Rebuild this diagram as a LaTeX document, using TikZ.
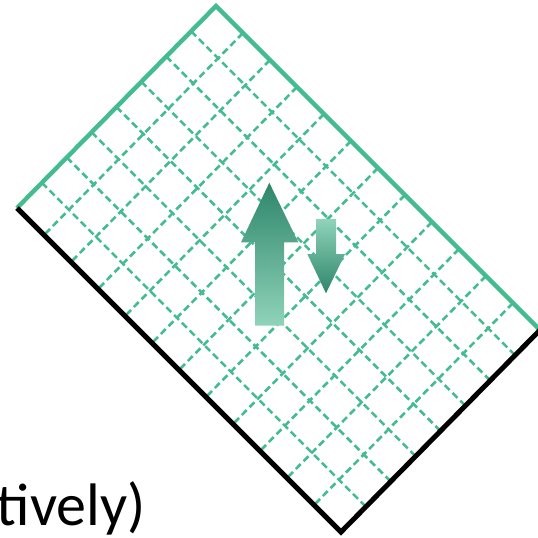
\documentclass[tikz,border=0pt]{standalone}
\usepackage{fontspec}
\setmainfont{Carlito}
\usetikzlibrary{calc}
\definecolor{gridteal}{RGB}{67,188,145}
\definecolor{arrdark}{RGB}{46,134,106}
\definecolor{arrmid}{RGB}{70,184,144}
\definecolor{arrlight}{RGB}{143,211,186}
\tikzset{
  gridline/.style={draw=gridteal, line width=2.6pt, dash pattern=on 7pt off 4pt},
  tealedge/.style={draw=gridteal, line width=4.4pt, line join=miter},
  blackedge/.style={draw=black, line width=5pt, line join=miter},
  lbl/.style={font=\fontsize{60}{60}\selectfont, inner sep=0pt, anchor=base east}
}
\begin{document}
\begin{tikzpicture}[x=1pt,y=-1pt]
\useasboundingbox (0,0) rectangle (538,538);
\coordinate (T) at (216,6);
\coordinate (L) at (17,208);
\coordinate (R) at (540,330);
\coordinate (B) at (341,532);
% grid lines parallel to T-L (12 cells along T-R)
\foreach \i in {1,...,11}{
  \draw[gridline] ($(T)!\i/12!(R)$) -- ($(L)!\i/12!(B)$);
}
% grid lines parallel to T-R (8 cells along T-L)
\foreach \j in {1,...,7}{
  \draw[gridline] ($(T)!\j/8!(L)$) -- ($(R)!\j/8!(B)$);
}
% outer edges
\draw[tealedge] (L) -- (T) -- (R);
\draw[blackedge] (L) -- (B) -- (R);
% up arrow
\shade[top color=arrdark, middle color=arrmid, bottom color=arrlight]
  (255,325.7) -- (255,242.3) -- (241,242.3) -- (269.3,182.7) -- (298.3,242.3) -- (284,242.3) -- (284,325.7) -- cycle;
% down arrow
\shade[top color=arrlight, middle color=arrmid, bottom color=arrdark]
  (316,219) -- (336,219) -- (336,254) -- (345,254) -- (326,293.3) -- (307.3,254) -- (316,254) -- cycle;
% text
\node[lbl] (txt) at (146,525) {tively)};
\end{tikzpicture}
\end{document}
